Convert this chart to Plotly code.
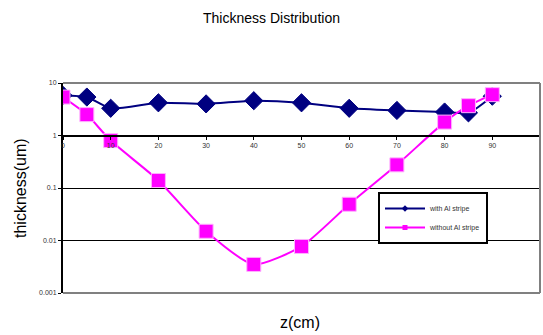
import plotly.graph_objects as go

z_cm = [0, 5, 10, 20, 30, 40, 50, 60, 70, 80, 85, 90]
with_al = [5.8, 5.4, 3.3, 4.2, 4.0, 4.6, 4.2, 3.3, 3.0, 2.8, 2.7, 5.6]
without_al = [5.4, 2.5, 0.8, 0.139, 0.015, 0.0035, 0.0077, 0.049, 0.276, 1.8, 3.7, 6.0]
x_ticks = [0, 10, 20, 30, 40, 50, 60, 70, 80, 90, 100]
y_ticks = [0.001, 0.01, 0.1, 1, 10]
y_tick_text = ["0.001", "0.01", "0.1", "1", "10"]

font = "Liberation Sans, Arial, sans-serif"
names = ["with Al stripe", "without Al stripe"]
colors = ["#000080", "#FF00FF"]
symbols = ["diamond", "square"]

fig = go.Figure()
for ys, nm, c, s in zip([with_al, without_al], names, colors, symbols):
    fig.add_trace(go.Scatter(
        x=z_cm, y=ys, name=nm, mode="lines+markers", showlegend=False,
        line=dict(color=c, width=2, shape="spline", smoothing=0.6),
        marker=dict(symbol=s, size=14, color=c,
                    line=dict(color="#FFB0FF" if s == "square" else c, width=1)),
    ))
# legend entries (small markers like the original)
for nm, c, s in zip(names, colors, symbols):
    fig.add_trace(go.Scatter(
        x=[None], y=[None], name=nm, mode="lines+markers",
        line=dict(color=c, width=2), marker=dict(symbol=s, size=5, color=c),
    ))

pw, ph = 543 - 63 - 3, 335 - 83 - 42

fig.update_layout(
    width=543, height=335,
    margin=dict(l=63, r=3, t=83, b=42),
    paper_bgcolor="white", plot_bgcolor="white",
    font=dict(family=font, color="black"),
    title=dict(text="Thickness Distribution", x=0.5, xanchor="center",
               y=1 - 18 / 335, yanchor="middle", font=dict(size=14)),
    xaxis=dict(
        range=[0, 100], tickvals=x_ticks, ticktext=[str(v) for v in x_ticks],
        anchor="free", position=0.75, showline=True, linecolor="black",
        linewidth=2, ticks="outside", ticklen=3, tickwidth=1, tickcolor="black",
        tickfont=dict(size=7, color="#333"), showgrid=False, zeroline=False,
    ),
    yaxis=dict(
        type="log", range=[-3, 1], tickvals=y_ticks, ticktext=y_tick_text,
        showline=True, linecolor="black", linewidth=2, ticks="outside",
        ticklen=3, tickcolor="black", tickfont=dict(size=7, color="#333"),
        showgrid=True, gridcolor="black", gridwidth=1, zeroline=False,
    ),
    legend=dict(
        x=(378 - 63) / pw, y=(293 - 192) / ph, xanchor="left", yanchor="top",
        bordercolor="black", borderwidth=2, bgcolor="white",
        font=dict(size=7, color="#333"), itemwidth=40, tracegroupgap=0,
    ),
    showlegend=True,
    annotations=[
        dict(text="thickness(um)", x=(20 - 63) / pw, y=(293 - 188) / ph,
             xref="paper", yref="paper", xanchor="center", yanchor="middle",
             showarrow=False, textangle=-90, font=dict(size=16)),
        dict(text="z(cm)", x=(300 - 63) / pw, y=(293 - 322) / ph,
             xref="paper", yref="paper", xanchor="center", yanchor="middle",
             showarrow=False, font=dict(size=16)),
    ],
)

gray = "#808080"
for x0, y0, x1, y1 in [(0, 1, 1, 1), (1, 0, 1, 1), (0, 0, 1, 0)]:
    fig.add_shape(type="line", xref="paper", yref="paper", x0=x0, y0=y0,
                  x1=x1, y1=y1, line=dict(color=gray, width=2), layer="above")

fig.write_html("out.html", config={"displayModeBar": False},
               post_script="document.body.style.margin='0';")
